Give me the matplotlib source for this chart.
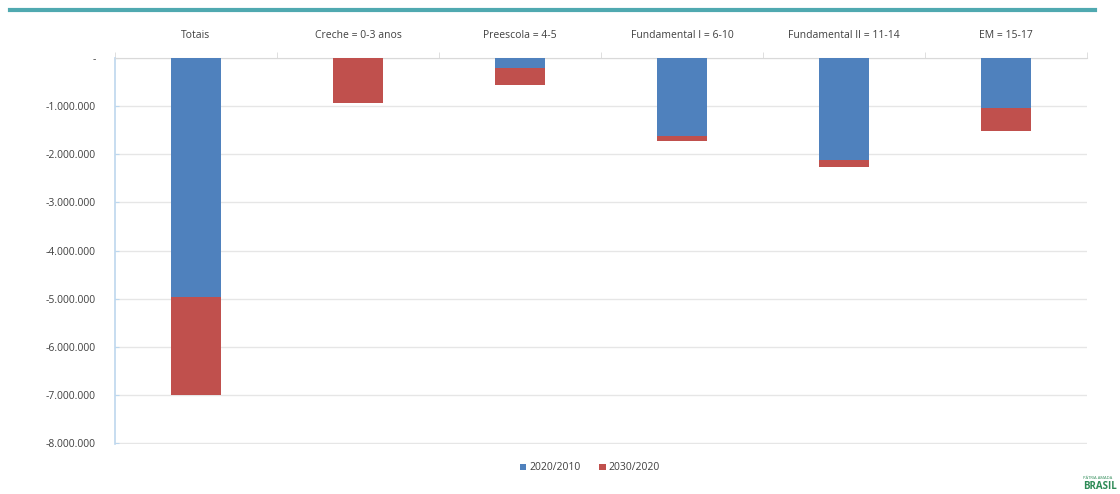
import matplotlib
matplotlib.use("Agg")
import matplotlib.pyplot as plt
from matplotlib.ticker import FuncFormatter, FixedLocator
import numpy as np

categories = ["Totais", "Creche = 0-3 anos", "Preescola = 4-5",
              "Fundamental I = 6-10", "Fundamental II = 11-14", "EM = 15-17"]
series_names = ["2020/2010", "2030/2020"]
change_2020_2010 = [-4970000, 0, -210000, -1620000, -2110000, -1030000]
change_2030_2020 = [-2030000, -940000, -350000, -100000, -150000, -480000]
y_ticks = [0, -1000000, -2000000, -3000000, -4000000, -5000000, -6000000, -7000000, -8000000]

BLUE = "#4F81BD"
RED = "#C0504D"
GRID = "#E6E6E6"
TEXT = "#404040"

plt.rcParams["font.family"] = ["Open Sans", "DejaVu Sans"]

fig = plt.figure(figsize=(11.2, 4.94), dpi=100)
ax = fig.add_axes([115 / 1120, 1 - 444 / 494, 972 / 1120, (444 - 58) / 494])

x = np.arange(len(categories))
w = 0.31
ax.bar(x, change_2020_2010, width=w, color=BLUE, label=series_names[0], zorder=3)
ax.bar(x, change_2030_2020, width=w, bottom=change_2020_2010, color=RED,
       label=series_names[1], zorder=3)

ax.set_xlim(-0.5, len(categories) - 0.5)
ax.set_ylim(-8020000, 0)

# category labels along the top
ax.xaxis.tick_top()
ax.set_xticks(x)
ax.set_xticklabels(categories, fontsize=7.5, color=TEXT)
ax.tick_params(axis="x", which="major", length=0, pad=12)
ax.xaxis.set_minor_locator(FixedLocator(np.arange(-0.5, len(categories), 1.0)))
ax.tick_params(axis="x", which="minor", length=4, color="#D9D9D9", top=True)

def fmt(v, _):
    if v == 0:
        return "-"
    return "{:,.0f}".format(v).replace(",", ".")

ax.yaxis.set_major_locator(FixedLocator(y_ticks))
ax.yaxis.set_major_formatter(FuncFormatter(fmt))
ax.tick_params(axis="y", labelsize=7.5, labelcolor=TEXT, length=3,
               color="#BDD7EE", direction="in", pad=14)

ax.grid(axis="y", color=GRID, linewidth=1, zorder=0)
for side in ("right", "bottom"):
    ax.spines[side].set_visible(False)
ax.spines["top"].set_color("#D9D9D9")
ax.spines["left"].set_color("#BDD7EE")
ax.spines["left"].set_linewidth(1.2)

leg = fig.legend(loc="center", bbox_to_anchor=(590 / 1120, 1 - 468 / 494), ncol=2,
                 frameon=False, fontsize=7.5, handlelength=0.6, handleheight=0.6,
                 handletextpad=0.3, columnspacing=1.8)
for t in leg.get_texts():
    t.set_color(TEXT)

# teal header rule
fig.add_artist(plt.Line2D([10 / 1120, 1095 / 1120], [1 - 10 / 494, 1 - 10 / 494],
                          color="#4FA9B0", linewidth=3, transform=fig.transFigure))

# footer mark
fig.text(1083 / 1120, 1 - 486 / 494, "BRASIL", fontsize=7, color="#2E8B57",
         ha="left", va="center", fontweight="bold")
fig.text(1083 / 1120, 1 - 478 / 494, "PÁTRIA AMADA", fontsize=3, color="#2E8B57",
         ha="left", va="center")

fig.savefig("out.png", dpi=100)
